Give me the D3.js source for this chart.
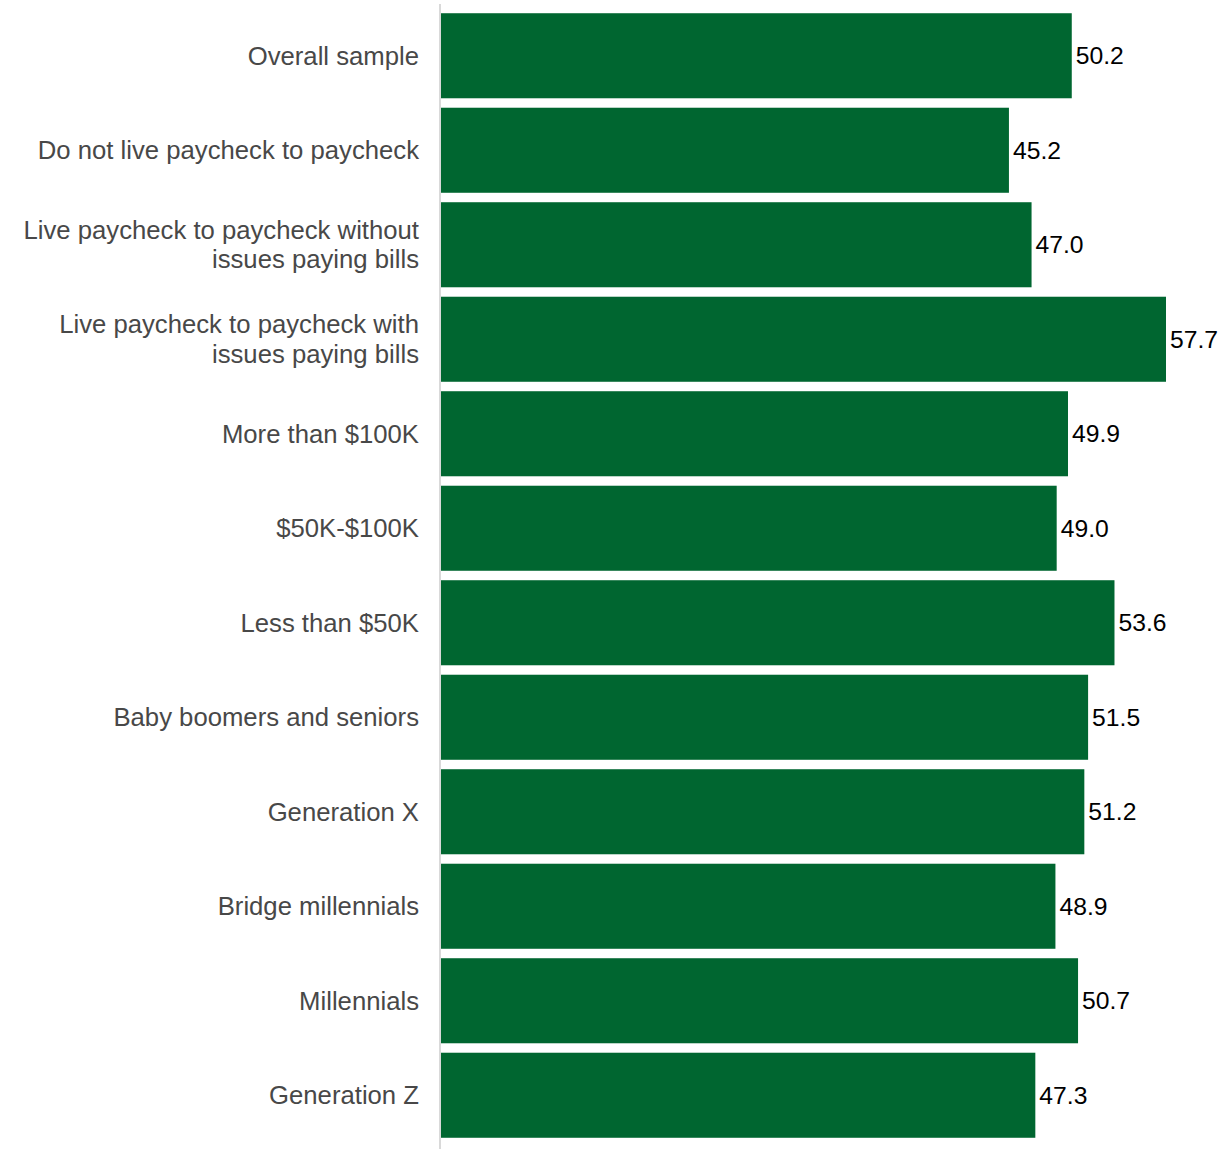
<!DOCTYPE html>
<html>
<head>
<meta charset="utf-8">
<script src="https://cdn.jsdelivr.net/npm/d3@7"></script>
<style>
  body { margin: 0; background: #fff; }
</style>
</head>
<body>
<div id="canvas"></div>
<script>
"use strict"

/* chart data */
let categories = [
    ["Overall sample"],
    ["Do not live paycheck to paycheck"],
    ["Live paycheck to paycheck without", "issues paying bills"],
    ["Live paycheck to paycheck with", "issues paying bills"],
    ["More than $100K"],
    ["$50K-$100K"],
    ["Less than $50K"],
    ["Baby boomers and seniors"],
    ["Generation X"],
    ["Bridge millennials"],
    ["Millennials"],
    ["Generation Z"]
];
let values = [50.2, 45.2, 47.0, 57.7, 49.9, 49.0, 53.6, 51.5, 51.2, 48.9, 50.7, 47.3];

let width = 1232;
let height = 1149;
let axisX = 441;

let drawing = d3.select("#canvas")
    .append("svg")
    .attr("width", width)
    .attr("height", height)
    .style("font-family", "Arial, 'Liberation Sans', sans-serif");

let keys = categories.map((c, i) => i);

let x = d3.scaleLinear()
    .domain([0, 60])
    .range([axisX, axisX + 60 * 12.565]);

let y = d3.scaleBand()
    .domain(keys)
    .range([8.5, 1142.5])
    .paddingInner(0.1)
    .paddingOuter(0.05);

/* bars */
drawing.selectAll("rect.bar")
    .data(values)
    .enter()
    .append("rect")
    .attr("class", "bar")
    .attr("x", x(0))
    .attr("y", (d, i) => y(i))
    .attr("width", d => x(d) - x(0))
    .attr("height", y.bandwidth())
    .attr("fill", "#006630");

/* vertical axis line */
drawing.append("line")
    .attr("x1", axisX - 1)
    .attr("x2", axisX - 1)
    .attr("y1", 4)
    .attr("y2", height)
    .attr("stroke", "#d9d9d9")
    .attr("stroke-width", 2);

/* category labels */
let lineH = 29.5;
let labels = drawing.selectAll("text.cat")
    .data(categories)
    .enter()
    .append("text")
    .attr("class", "cat")
    .attr("text-anchor", "end")
    .attr("font-size", "25.7px")
    .attr("fill", "#484848");

labels.each(function (lines, i) {
    let cy = y(i) + y.bandwidth() / 2;
    let top = cy - (lines.length - 1) * lineH / 2;
    lines.forEach((ln, j) => {
        d3.select(this).append("tspan")
            .attr("x", 419)
            .attr("y", top + j * lineH)
            .attr("dy", "0.35em")
            .text(ln);
    });
});

/* value labels */
drawing.selectAll("text.val")
    .data(values)
    .enter()
    .append("text")
    .attr("class", "val")
    .attr("x", d => x(d) + 4)
    .attr("y", (d, i) => y(i) + y.bandwidth() / 2)
    .attr("dy", "0.35em")
    .attr("font-size", "24.7px")
    .attr("fill", "#000")
    .text(d => d.toFixed(1));
</script>
</body>
</html>
